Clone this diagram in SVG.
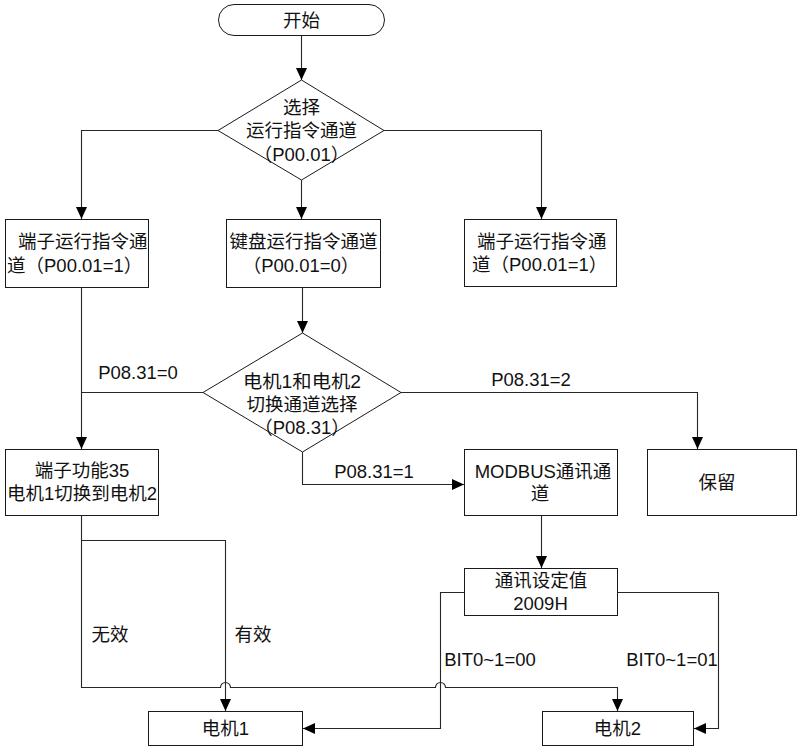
<svg xmlns="http://www.w3.org/2000/svg" width="797" height="747" viewBox="0 0 797 747">
<style>
.n{fill:#fff;stroke:#1a1a1a;stroke-width:1}
.c{fill:none;stroke:#262626;stroke-width:1.1}
.t{font-family:"Liberation Sans","Noto Sans CJK SC",sans-serif;font-size:18.5px;fill:#111;text-anchor:middle}
.l{text-anchor:start}
</style>
<defs>
<marker id="a" markerUnits="userSpaceOnUse" markerWidth="12" markerHeight="12" refX="12" refY="6" orient="auto">
<path d="M0,0.5 L12,6 L0,11.5 z" fill="#000"/>
</marker>
</defs>
<rect width="797" height="747" fill="#fff"/>
<g id="connectors">
<path class="c" d="M301.5,36 V80" marker-end="url(#a)"/>
<path class="c" d="M218,130.5 H81.5 V219" marker-end="url(#a)"/>
<path class="c" d="M384,130.5 H541.5 V219" marker-end="url(#a)"/>
<path class="c" d="M301.5,180 V219" marker-end="url(#a)"/>
<path class="c" d="M302.5,288 V333" marker-end="url(#a)"/>
<path class="c" d="M81.5,288 V449" marker-end="url(#a)"/>
<path class="c" d="M203,392.5 H81.5"/>
<path class="c" d="M401,392.5 H697.5 V449" marker-end="url(#a)"/>
<path class="c" d="M302.5,452 V484.5 H464" marker-end="url(#a)"/>
<path class="c" d="M541.5,516 V568" marker-end="url(#a)"/>
<path class="c" d="M81.5,516 V687.5 H220.5 A5,5 0 0 1 230.5,687.5 H435.5 A5,5 0 0 1 445.5,687.5 H617.5 V711" marker-end="url(#a)"/>
<path class="c" d="M81.5,540.5 H225.5 V711" marker-end="url(#a)"/>
<path class="c" d="M464,592.5 H440.5 V728.5 H303" marker-end="url(#a)"/>
<path class="c" d="M618,592.5 H718.5 V728.5 H694" marker-end="url(#a)"/>
<text class="t" x="138" y="379">P08.31=0</text>
<text class="t" x="531" y="386">P08.31=2</text>
<text class="t" x="374" y="478">P08.31=1</text>
<text class="t" x="110" y="641">无效</text>
<text class="t" x="253" y="641">有效</text>
<text class="t" x="490" y="666">BIT0~1=00</text>
<text class="t" x="672" y="666">BIT0~1=01</text>
</g>
<g id="start">
<rect class="n" x="218.5" y="4.5" width="166" height="31" rx="15.5"/>
<text class="t" x="301.5" y="26.5">开始</text>
</g>
<g id="select1">
<polygon class="n" points="301.5,80 384,130.5 301.5,180 218,130.5"/>
<text class="t" x="301.5" y="113.5">选择</text>
<text class="t" x="301.5" y="136.5">运行指令通道</text>
<text class="t" x="301.5" y="160.5">（P00.01）</text>
</g>
<g id="terminal-left">
<rect class="n" x="5.5" y="219.5" width="143" height="68"/>
<text class="t l" x="18" y="248">端子运行指令通</text>
<text class="t l" x="7" y="272">道（P00.01=1）</text>
</g>
<g id="keyboard">
<rect class="n" x="226.5" y="219.5" width="154" height="68"/>
<text class="t" x="303.5" y="248">键盘运行指令通道</text>
<text class="t" x="301" y="272">（P00.01=0）</text>
</g>
<g id="terminal-right">
<rect class="n" x="464.5" y="219.5" width="152" height="67"/>
<text class="t l" x="477" y="248">端子运行指令通</text>
<text class="t l" x="472" y="271">道（P00.01=1）</text>
</g>
<g id="select2">
<polygon class="n" points="302.5,333 401,392.5 302.5,452 203,392.5"/>
<text class="t" x="302" y="387.5" textLength="118" lengthAdjust="spacingAndGlyphs">电机1和电机2</text>
<text class="t" x="302" y="410.5">切换通道选择</text>
<text class="t" x="302" y="433.5">（P08.31）</text>
</g>
<g id="terminal35">
<rect class="n" x="5.5" y="449.5" width="153" height="66"/>
<text class="t" x="82" y="477">端子功能35</text>
<text class="t" x="82" y="500">电机1切换到电机2</text>
</g>
<g id="modbus">
<rect class="n" x="464.5" y="449.5" width="153" height="66"/>
<text class="t" x="543" y="478">MODBUS通讯通</text>
<text class="t" x="540" y="500">道</text>
</g>
<g id="reserved">
<rect class="n" x="647.5" y="449.5" width="149" height="66"/>
<text class="t" x="717" y="489">保留</text>
</g>
<g id="comm-value">
<rect class="n" x="464.5" y="568.5" width="153" height="47"/>
<text class="t" x="541" y="586.5">通讯设定值</text>
<text class="t" x="540.5" y="609.5">2009H</text>
</g>
<g id="motor1">
<rect class="n" x="148.5" y="711.5" width="154" height="34"/>
<text class="t" x="225.5" y="735">电机1</text>
</g>
<g id="motor2">
<rect class="n" x="542.5" y="711.5" width="151" height="34"/>
<text class="t" x="617.5" y="735">电机2</text>
</g>
</svg>
